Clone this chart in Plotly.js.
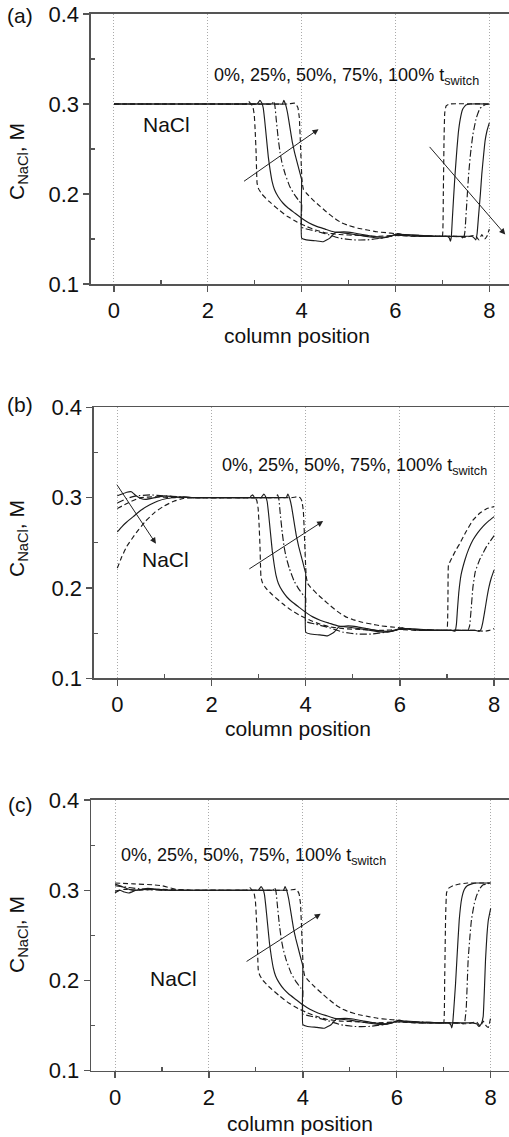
<!DOCTYPE html>
<html>
<head>
<meta charset="utf-8">
<script src="https://cdn.plot.ly/plotly-3.0.1.min.js"></script>
<style>html,body{margin:0;padding:0;background:#fff;}#plot{width:509px;height:1137px;}</style>
</head>
<body>
<div id="plot"></div>
<script>
// Curve labels (fraction of switching time) and line styles
const seriesNames = ["0%", "25%", "50%", "75%", "100%"];

// ---- Shared middle part of the profiles (column positions ~1.8 - 6.9) ----
const midX = [
  [1.8, 2.6, 2.8, 2.87, 2.92, 2.96, 2.99, 3.01, 3.03, 3.04, 3.05, 3.08, 3.15, 3.3, 3.5, 3.7, 3.9, 4.1, 4.3, 4.5, 4.8, 5.2, 5.6, 6.0, 6.4, 6.8],
  [1.8, 2.9, 3.05, 3.11, 3.15, 3.18, 3.21, 3.25, 3.29, 3.33, 3.37, 3.42, 3.5, 3.6, 3.7, 3.85, 4.0, 4.15, 4.32, 4.5, 4.68, 5.0, 5.25, 5.5, 5.7, 5.9, 6.05, 6.2, 6.5, 6.9],
  [1.8, 3.2, 3.36, 3.40, 3.43, 3.46, 3.50, 3.54, 3.58, 3.65, 3.75, 3.85, 3.95, 4.0, 4.0, 4.2, 4.5, 4.8, 5.1, 5.4, 5.7, 6.0, 6.5, 6.9],
  [1.8, 3.5, 3.59, 3.62, 3.66, 3.70, 3.75, 3.80, 3.85, 3.90, 3.95, 3.99, 4.0, 4.0, 4.1, 4.3, 4.46, 4.6, 4.71, 4.9, 5.1, 5.3, 5.5, 5.8, 6.0, 6.2, 6.5, 6.9],
  [1.8, 3.7, 3.84, 3.88, 3.92, 3.95, 3.97, 3.99, 4.01, 4.04, 4.1, 4.25, 4.4, 4.53, 4.7, 4.85, 5.0, 5.2, 5.4, 5.6, 5.8, 6.0, 6.3, 6.6, 6.9]
];
const midY = [
  [0.300, 0.300, 0.300, 0.303, 0.300, 0.297, 0.288, 0.270, 0.245, 0.225, 0.212, 0.206, 0.200, 0.192, 0.183, 0.175, 0.169, 0.164, 0.160, 0.157, 0.155, 0.154, 0.153, 0.154, 0.153, 0.153],
  [0.300, 0.300, 0.300, 0.304, 0.301, 0.296, 0.283, 0.262, 0.241, 0.226, 0.214, 0.205, 0.197, 0.190, 0.185, 0.179, 0.173, 0.168, 0.164, 0.161, 0.158, 0.156, 0.154, 0.152, 0.151, 0.153, 0.156, 0.154, 0.153, 0.153],
  [0.300, 0.300, 0.300, 0.303, 0.298, 0.282, 0.262, 0.246, 0.235, 0.222, 0.208, 0.199, 0.192, 0.189, 0.163, 0.160, 0.156, 0.151, 0.149, 0.149, 0.151, 0.154, 0.154, 0.153],
  [0.300, 0.300, 0.300, 0.304, 0.299, 0.290, 0.274, 0.258, 0.246, 0.236, 0.226, 0.218, 0.216, 0.151, 0.149, 0.148, 0.147, 0.151, 0.157, 0.158, 0.157, 0.155, 0.153, 0.152, 0.155, 0.155, 0.154, 0.153],
  [0.300, 0.300, 0.301, 0.300, 0.296, 0.285, 0.262, 0.235, 0.213, 0.205, 0.201, 0.193, 0.186, 0.180, 0.173, 0.168, 0.165, 0.162, 0.160, 0.158, 0.157, 0.156, 0.154, 0.153, 0.153]
];

// ---- Panel (a) ----
const aLeftX = [[0], [0], [0], [0], [0]];
const aLeftY = [[0.3], [0.3], [0.3], [0.3], [0.3]];
const aRightX = [
  [6.95, 7.0, 7.02, 7.035, 7.05, 7.08, 7.15, 8.0],
  [7.1, 7.15, 7.17, 7.19, 7.21, 7.24, 7.27, 7.31, 7.34, 7.38, 7.43, 7.5, 7.6, 8.0],
  [7.3, 7.42, 7.45, 7.48, 7.52, 7.56, 7.6, 7.65, 7.72, 7.8, 7.9, 8.0],
  [7.2, 7.5, 7.62, 7.68, 7.71, 7.74, 7.77, 7.81, 7.84, 7.88, 7.91, 7.95, 8.0],
  [7.2, 7.5, 7.7, 7.78, 7.84, 7.9, 7.95, 8.0]
];
const aRightY = [
  [0.153, 0.153, 0.200, 0.260, 0.290, 0.298, 0.300, 0.300],
  [0.153, 0.151, 0.1475, 0.152, 0.170, 0.197, 0.222, 0.250, 0.268, 0.283, 0.294, 0.299, 0.300, 0.300],
  [0.153, 0.152, 0.150, 0.158, 0.190, 0.222, 0.245, 0.266, 0.284, 0.295, 0.299, 0.300],
  [0.153, 0.153, 0.153, 0.151, 0.149, 0.156, 0.175, 0.200, 0.222, 0.244, 0.259, 0.270, 0.279],
  [0.153, 0.152, 0.154, 0.149, 0.155, 0.150, 0.153, 0.161]
];

// ---- Panel (b) ----
const bLeftX = [
  [0, 0.15, 0.3, 0.5, 0.8, 1.2, 1.6],
  [0, 0.1, 0.2, 0.3, 0.4, 0.5, 0.6, 0.8, 1.0, 1.2, 1.6],
  [0, 0.2, 0.4, 0.7, 1.0, 1.3, 1.6],
  [0, 0.1, 0.2, 0.34, 0.5, 0.69, 0.85, 1.05, 1.4, 1.6],
  [0, 0.1, 0.2, 0.4, 0.6, 0.8, 1.0, 1.2, 1.4, 1.6]
];
const bLeftY = [
  [0.288, 0.292, 0.296, 0.300, 0.301, 0.300, 0.300],
  [0.302, 0.304, 0.306, 0.3065, 0.302, 0.299, 0.298, 0.300, 0.302, 0.301, 0.300],
  [0.294, 0.299, 0.302, 0.303, 0.302, 0.301, 0.300],
  [0.262, 0.268, 0.273, 0.279, 0.286, 0.292, 0.296, 0.299, 0.301, 0.300],
  [0.222, 0.235, 0.246, 0.261, 0.274, 0.284, 0.291, 0.296, 0.299, 0.300]
];
const bRightX = [
  [6.95, 7.0, 7.02, 7.03, 7.1, 7.2, 7.27, 7.4, 7.55, 7.7, 7.85, 8.0],
  [7.1, 7.17, 7.2, 7.22, 7.25, 7.3, 7.38, 7.46, 7.55, 7.65, 7.76, 7.88, 8.0],
  [7.3, 7.44, 7.48, 7.51, 7.55, 7.6, 7.69, 7.77, 7.84, 7.92, 8.0],
  [7.2, 7.6, 7.68, 7.72, 7.76, 7.8, 7.85, 7.89, 7.94, 8.0],
  [7.2, 7.6, 7.8, 7.9, 8.0]
];
const bRightY = [
  [0.153, 0.153, 0.190, 0.225, 0.233, 0.243, 0.249, 0.262, 0.275, 0.283, 0.288, 0.290],
  [0.153, 0.152, 0.160, 0.175, 0.195, 0.215, 0.231, 0.243, 0.253, 0.261, 0.268, 0.274, 0.279],
  [0.153, 0.153, 0.158, 0.175, 0.201, 0.218, 0.231, 0.239, 0.246, 0.252, 0.258],
  [0.153, 0.153, 0.152, 0.154, 0.162, 0.174, 0.190, 0.201, 0.211, 0.220],
  [0.153, 0.153, 0.152, 0.153, 0.155]
];

// ---- Panel (c) ----
const cLeftX = [
  [0, 0.4, 0.8, 1.0, 1.15, 1.3, 1.6],
  [0, 0.15, 0.3, 0.45, 0.6, 0.9, 1.2, 1.6],
  [0, 0.3, 0.6, 1.0, 1.6],
  [0, 0.1, 0.2, 0.3, 0.45, 0.7, 1.0, 1.6],
  [0, 0.2, 0.5, 0.9, 1.6]
];
const cLeftY = [
  [0.308, 0.307, 0.306, 0.305, 0.303, 0.301, 0.300],
  [0.307, 0.304, 0.301, 0.300, 0.301, 0.301, 0.300, 0.300],
  [0.305, 0.303, 0.301, 0.300, 0.300],
  [0.297, 0.300, 0.298, 0.297, 0.300, 0.302, 0.300, 0.300],
  [0.299, 0.301, 0.300, 0.301, 0.300]
];
const cRightX = [
  [6.95, 7.0, 7.02, 7.04, 7.06, 7.1, 7.2, 7.35, 7.5, 8.0],
  [7.1, 7.15, 7.17, 7.19, 7.21, 7.25, 7.28, 7.33, 7.38, 7.44, 7.5, 7.6, 7.7, 8.0],
  [7.3, 7.42, 7.45, 7.48, 7.52, 7.56, 7.59, 7.65, 7.7, 7.77, 7.84, 8.0],
  [7.2, 7.6, 7.7, 7.75, 7.8, 7.84, 7.87, 7.89, 7.92, 7.95, 8.0],
  [7.2, 7.5, 7.7, 7.78, 7.84, 7.9, 7.95, 8.0]
];
const cRightY = [
  [0.153, 0.153, 0.200, 0.270, 0.297, 0.302, 0.305, 0.307, 0.308, 0.308],
  [0.153, 0.151, 0.1475, 0.152, 0.165, 0.195, 0.223, 0.267, 0.290, 0.301, 0.305, 0.307, 0.308, 0.308],
  [0.153, 0.152, 0.155, 0.170, 0.223, 0.250, 0.267, 0.285, 0.294, 0.302, 0.306, 0.308],
  [0.153, 0.153, 0.152, 0.149, 0.152, 0.160, 0.195, 0.223, 0.250, 0.267, 0.280],
  [0.153, 0.152, 0.154, 0.149, 0.155, 0.150, 0.148, 0.159]
];

// Text
const panelLabels = ["(a)", "(b)", "(c)"];
const timeLabel = "0%, 25%, 50%, 75%, 100% t<sub>switch</sub>";
const speciesLabel = "NaCl";
const xTitle = "column position";
const yTitle = "C<sub>NaCl</sub>, M";

// ---- Build ----
const FONT = "Liberation Sans, Arial, Helvetica, sans-serif";
const ink = "#1c1c1c";
const dashes = ["5px,3px", "solid", "7px,2.5px,1.5px,2.5px", "solid", "5px,3px"];

const panels = [
  {L: [aLeftX, aLeftY], R: [aRightX, aRightY], xa: "x", ya: "y"},
  {L: [bLeftX, bLeftY], R: [bRightX, bRightY], xa: "x2", ya: "y2"},
  {L: [cLeftX, cLeftY], R: [cRightX, cRightY], xa: "x3", ya: "y3"}
];

const traces = [];
panels.forEach(p => {
  for (let k = 0; k < 5; k++) {
    traces.push({
      type: "scatter", mode: "lines", name: seriesNames[k],
      x: p.L[0][k].concat(midX[k], p.R[0][k]),
      y: p.L[1][k].concat(midY[k], p.R[1][k]),
      xaxis: p.xa, yaxis: p.ya, showlegend: false,
      line: {color: ink, width: 1.15, dash: dashes[k], shape: "spline", smoothing: 0.3},
      hoverinfo: "skip"
    });
  }
});

const H = 1137, W = 509;
function xAx(domL, range, anchor) {
  return {
    domain: [domL / W, 1], range: range, anchor: anchor,
    tickvals: [0, 2, 4, 6, 8], ticktext: ["0", "2", "4", "6", "8"],
    ticks: "outside", ticklen: 6, tickwidth: 1.3, tickcolor: "#555",
    minor: {tickvals: [1, 3, 5, 7], ticks: "inside", ticklen: 4, tickwidth: 1.2, tickcolor: "#555", showgrid: false},
    showgrid: true, gridcolor: "#aaaaaa", gridwidth: 1, griddash: "1px,2px",
    showline: true, linecolor: "#555", linewidth: 1.6, mirror: true,
    zeroline: false, tickfont: {family: FONT, size: 22, color: "#111"}
  };
}
function yAx(top, bottom, anchor) {
  return {
    domain: [1 - bottom / H, 1 - top / H], range: [0.1, 0.4], anchor: anchor,
    tickvals: [0.1, 0.2, 0.3, 0.4], ticktext: ["0.1", "0.2", "0.3", "0.4"],
    ticks: "outside", ticklen: 6, tickwidth: 1.3, tickcolor: "#555",
    minor: {tickvals: [0.15, 0.25, 0.35], ticks: "inside", ticklen: 4, tickwidth: 1.2, tickcolor: "#555", showgrid: false},
    showgrid: false, showline: true, linecolor: "#555", linewidth: 1.6, mirror: false,
    zeroline: false, tickfont: {family: FONT, size: 22, color: "#111"}
  };
}

const txtFont = {family: FONT, size: 18, color: "#111"};
const bigFont = {family: FONT, size: 21, color: "#111"};
function lab(xref, yref, x, y, text, font) {
  return {xref: xref, yref: yref, x: x, y: y, text: text, showarrow: false, xanchor: "left", yanchor: "middle", font: font};
}
function arrow(xref, yref, x0, y0, x1, y1) {
  return {xref: xref, yref: yref, axref: xref, ayref: yref, x: x1, y: y1, ax: x0, ay: y0, text: "",
    showarrow: true, arrowhead: 2, arrowsize: 1.2, arrowwidth: 1, arrowcolor: "#222", standoff: 0, startstandoff: 0};
}
function paperText(px, py, text, font, angle) {
  return {xref: "paper", yref: "paper", x: px / W, y: 1 - py / H, text: text, showarrow: false,
    xanchor: "center", yanchor: "middle", font: font, textangle: angle || 0};
}

const annotations = [
  // panel labels
  paperText(20, 16, panelLabels[0], bigFont), paperText(20, 404, panelLabels[1], bigFont), paperText(20, 804, panelLabels[2], bigFont),
  // axis titles
  paperText(18, 162, yTitle, bigFont, -90), paperText(18, 539, yTitle, bigFont, -90), paperText(18, 935, yTitle, bigFont, -90),
  paperText(297, 335, xTitle, bigFont), paperText(298, 728, xTitle, bigFont), paperText(300, 1123, xTitle, bigFont),
  // panel (a)
  lab("x", "y", 2.09, 0.331, timeLabel, txtFont),
  lab("x", "y", 0.57, 0.277, speciesLabel, bigFont),
  arrow("x", "y", 2.74, 0.213, 4.36, 0.272),
  arrow("x", "y", 6.70, 0.254, 8.34, 0.155),
  // panel (b)
  lab("x2", "y2", 2.17, 0.334, timeLabel, txtFont),
  lab("x2", "y2", 0.48, 0.231, speciesLabel, bigFont),
  arrow("x2", "y2", -0.03, 0.316, 0.82, 0.249),
  arrow("x2", "y2", 2.77, 0.220, 4.37, 0.274),
  // panel (c)
  lab("x3", "y3", 0.085, 0.337, timeLabel, txtFont),
  lab("x3", "y3", 0.70, 0.2024, speciesLabel, bigFont),
  arrow("x3", "y3", 2.77, 0.220, 4.38, 0.274)
];

const layout = {
  width: W, height: H, margin: {l: 0, r: 0, t: 0, b: 0},
  paper_bgcolor: "#fff", plot_bgcolor: "#fff", showlegend: false,
  xaxis: xAx(91, [-0.49, 8.42], "y"),
  yaxis: yAx(14, 284, "x"),
  xaxis2: xAx(94, [-0.495, 8.316], "y2"),
  yaxis2: yAx(407.3, 678.3, "x2"),
  xaxis3: xAx(91.3, [-0.505, 8.39], "y3"),
  yaxis3: yAx(800, 1070.7, "x3"),
  annotations: annotations
};

Plotly.newPlot("plot", traces, layout, {staticPlot: true, displayModeBar: false});
</script>
</body>
</html>
